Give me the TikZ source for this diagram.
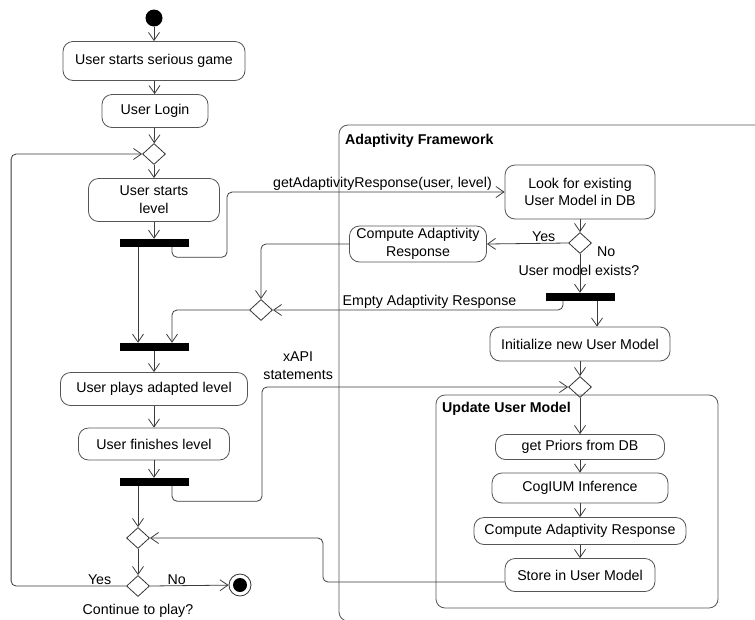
\documentclass[tikz,border=0pt]{standalone}
\usepackage{fontspec}
\setmainfont{Liberation Sans}
\usetikzlibrary{arrows.meta,positioning,shapes.geometric}
\definecolor{umlline}{HTML}{3C3C3C}
\definecolor{umlbox}{HTML}{555555}

\begin{document}
\begin{tikzpicture}[x=1pt,y=-1pt,
 font=\fontsize{14.2}{17.7}\selectfont,
 act/.style={draw=umlbox,line width=0.8pt,rounded corners=10pt,align=center,inner sep=2pt},
 bar/.style={fill=black,minimum width=69pt,minimum height=8pt,inner sep=0pt},
 choice/.style={diamond,draw=black!80,line width=0.8pt,minimum width=23pt,minimum height=21pt,inner sep=0pt},
 lbl/.style={inner sep=1pt},
 title/.style={anchor=west,inner sep=1pt,font=\fontsize{14.2}{17.7}\selectfont\bfseries},
 region/.style={draw=umlbox,line width=0.8pt,rounded corners=9pt},
 flow/.style={-{Straight Barb[length=8pt,width=11pt]},draw=umlline,line width=0.8pt,rounded corners=5pt}]
\useasboundingbox (0,0) rectangle (755,619);
\draw[region] (339,125) rectangle (790,621);
\node[title] (fwtitle) at (344,141) {Adaptivity Framework};
\draw[region] (436,395) rectangle (718,608);
\node[title] (umtitle) at (441,409) {Update User Model};
\node[circle,fill=black,minimum size=17pt,inner sep=0pt] (start) at (154,18) {};
\node[act,minimum width=182pt,minimum height=39pt] (game) at (154,61) {User starts serious game};
\node[act,minimum width=106pt,minimum height=33pt] (login) at (155,111) {User Login};
\node[choice] (loop) at (154,154) {};
\node[act,minimum width=131pt,minimum height=43pt] (startlvl) at (154,200) {User starts\\level};
\node[bar] (fork1) at (154,243) {};
\node[choice] (merge2) at (261,310) {};
\node[bar] (join2) at (154,347) {};
\node[act,minimum width=187pt,minimum height=33pt] (plays) at (154,389) {User plays adapted level};
\node[act,minimum width=151pt,minimum height=32pt] (finish) at (154,444) {User finishes level};
\node[bar] (fork4) at (154,482) {};
\node[choice] (merge5) at (138,538) {};
\node[choice] (cont) at (138,586) {};
\node[lbl] (contq) at (138,611) {Continue to play?};
\node[circle,draw=black!80,line width=0.8pt,minimum size=22pt,inner sep=0pt] (stop) at (240,585) {};
\node[circle,fill=black,minimum size=14pt,inner sep=0pt] (stopdot) at (stop) {};
\node[act,minimum width=150pt,minimum height=54pt] (look) at (580,192) {Look for existing\\User Model in DB};
\node[choice] (exists) at (580,243) {};
\node[lbl,anchor=west] (noexist) at (596,252) {No};
\node[lbl] (existq) at (579,270) {User model exists?};
\node[act,minimum width=137pt,minimum height=36pt] (computeA) at (418,244) {Compute Adaptivity\\Response};
\node[bar] (fork3) at (580,297) {};
\node[act,minimum width=180pt,minimum height=34pt] (initum) at (580,344) {Initialize new User Model};
\node[choice] (merge4) at (580,387) {};
\node[act,minimum width=169pt,minimum height=25pt] (priors) at (580,447) {get Priors from DB};
\node[act,minimum width=176pt,minimum height=30pt] (cogium) at (580,488) {CogIUM Inference};
\node[act,minimum width=212pt,minimum height=27pt] (computeB) at (580,531) {Compute Adaptivity Response};
\node[act,minimum width=150pt,minimum height=33pt] (store) at (580,575) {Store in User Model};
\draw[flow] (start)--(game); \draw[flow] (game)--(login);
\draw[flow] (login)--(loop); \draw[flow] (loop)--(startlvl);
\draw[flow] (startlvl)--(fork1);
\draw[flow] ([xshift=-16pt]fork1.south)--([xshift=-16pt]join2.north);
\draw[flow] ([xshift=18pt]fork1.south) |- ++(55,10) |- node[lbl,above,pos=0.78]{getAdaptivityResponse(user, level)} (look.west);
\draw[flow] (look)--(exists);
\draw[flow] (exists.west)-- node[lbl,above,pos=0.3]{Yes} (computeA.east);
\draw[flow] (exists.south)--(fork3.north);
\draw[flow] (computeA.west) -| (merge2.north);
\draw[flow] ([xshift=-17pt]fork3.south) |- node[lbl,above,pos=0.73]{Empty Adaptivity Response} (merge2.east);
\draw[flow] ([xshift=17pt]fork3.south)--([xshift=17pt]fork3.south |- initum.north);
\draw[flow] (merge2.west) -| ([xshift=18pt]join2.north);
\draw[flow] (join2)--(plays); \draw[flow] (plays)--(finish);
\draw[flow] (finish)--(fork4);
\draw[flow] (merge5.north |- fork4.south)--(merge5.north);
\draw[flow] ([xshift=18pt]fork4.south) |- ++(90,15) |- node[lbl,above right,pos=0.5,align=center,yshift=6pt]{xAPI\\statements} (merge4.west);
\draw[flow] (initum)--(merge4); \draw[flow] (merge4)--(priors);
\draw[flow] (priors)--(cogium); \draw[flow] (cogium)--(computeB);
\draw[flow] (computeB)--(store);
\draw[flow] ([yshift=-7pt]store.west) -| ([xshift=173pt]merge5.east)--(merge5.east);
\draw[flow] (merge5)--(cont);
\draw[flow] (cont.east)-- node[lbl,above,pos=0.34]{No} (stop);
\draw[flow] (cont.west)-- node[lbl,above,pos=0.23]{Yes} ++(-115,0) |- (loop.west);
\end{tikzpicture}
\end{document}
